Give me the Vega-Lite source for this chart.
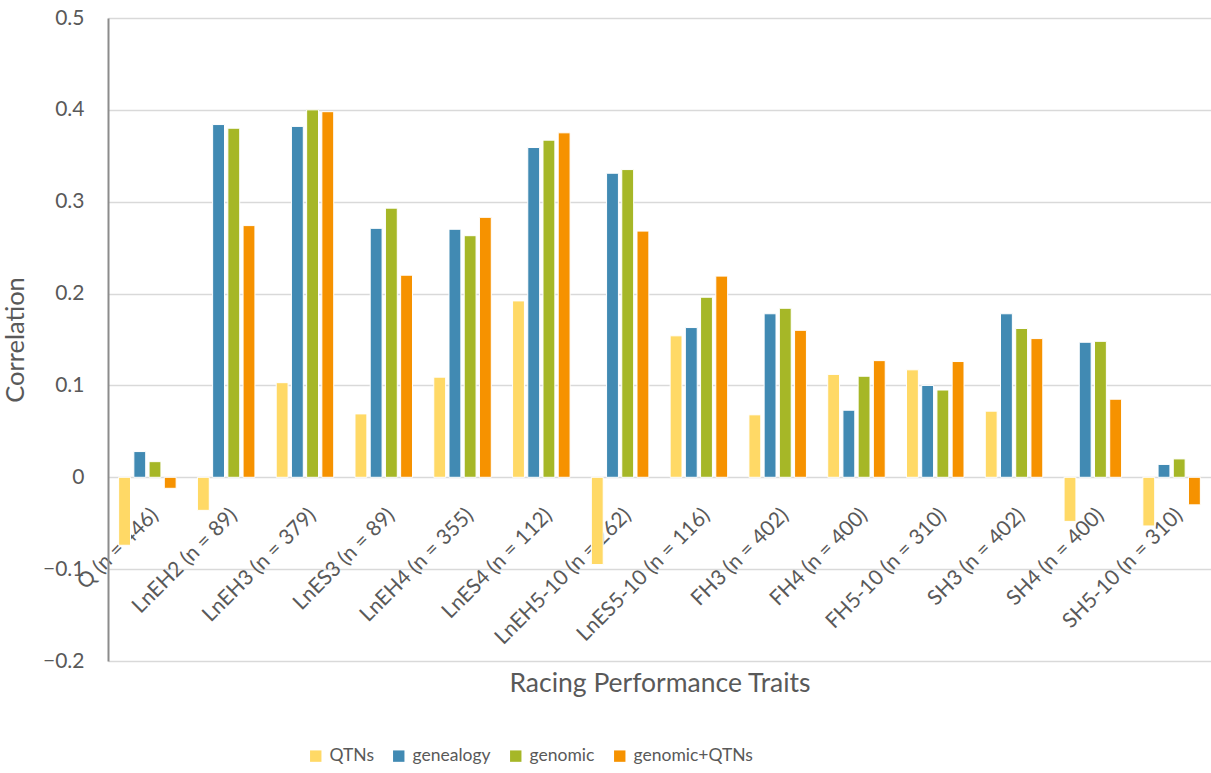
{
  "$schema": "https://vega.github.io/schema/vega-lite/v6.json",
  "autosize": {"type": "none"},
  "padding": {"left": 108, "top": 18, "right": 0, "bottom": 112},
  "width": 1103,
  "height": 643,
  "background": "white",
  "config": {
    "font": "Lato",
    "view": {"stroke": null},
    "axis": {"labelColor": "#595959", "titleColor": "#595959", "labelFont": "Lato", "titleFont": "Lato", "titleFontWeight": "normal"},
    "legend": {"labelFont": "Lato", "labelColor": "#595959"}
  },
  "data": {
    "values": [
      {"trait": "Q (n = 446)", "method": "QTNs", "r": -0.074},
      {"trait": "Q (n = 446)", "method": "genealogy", "r": 0.028},
      {"trait": "Q (n = 446)", "method": "genomic", "r": 0.017},
      {"trait": "Q (n = 446)", "method": "genomic+QTNs", "r": -0.012},
      {"trait": "LnEH2 (n = 89)", "method": "QTNs", "r": -0.036},
      {"trait": "LnEH2 (n = 89)", "method": "genealogy", "r": 0.384},
      {"trait": "LnEH2 (n = 89)", "method": "genomic", "r": 0.380},
      {"trait": "LnEH2 (n = 89)", "method": "genomic+QTNs", "r": 0.274},
      {"trait": "LnEH3 (n = 379)", "method": "QTNs", "r": 0.103},
      {"trait": "LnEH3 (n = 379)", "method": "genealogy", "r": 0.382},
      {"trait": "LnEH3 (n = 379)", "method": "genomic", "r": 0.400},
      {"trait": "LnEH3 (n = 379)", "method": "genomic+QTNs", "r": 0.398},
      {"trait": "LnES3 (n = 89)", "method": "QTNs", "r": 0.069},
      {"trait": "LnES3 (n = 89)", "method": "genealogy", "r": 0.271},
      {"trait": "LnES3 (n = 89)", "method": "genomic", "r": 0.293},
      {"trait": "LnES3 (n = 89)", "method": "genomic+QTNs", "r": 0.220},
      {"trait": "LnEH4 (n = 355)", "method": "QTNs", "r": 0.109},
      {"trait": "LnEH4 (n = 355)", "method": "genealogy", "r": 0.270},
      {"trait": "LnEH4 (n = 355)", "method": "genomic", "r": 0.263},
      {"trait": "LnEH4 (n = 355)", "method": "genomic+QTNs", "r": 0.283},
      {"trait": "LnES4 (n = 112)", "method": "QTNs", "r": 0.192},
      {"trait": "LnES4 (n = 112)", "method": "genealogy", "r": 0.359},
      {"trait": "LnES4 (n = 112)", "method": "genomic", "r": 0.367},
      {"trait": "LnES4 (n = 112)", "method": "genomic+QTNs", "r": 0.375},
      {"trait": "LnEH5-10 (n = 262)", "method": "QTNs", "r": -0.095},
      {"trait": "LnEH5-10 (n = 262)", "method": "genealogy", "r": 0.331},
      {"trait": "LnEH5-10 (n = 262)", "method": "genomic", "r": 0.335},
      {"trait": "LnEH5-10 (n = 262)", "method": "genomic+QTNs", "r": 0.268},
      {"trait": "LnES5-10 (n = 116)", "method": "QTNs", "r": 0.154},
      {"trait": "LnES5-10 (n = 116)", "method": "genealogy", "r": 0.163},
      {"trait": "LnES5-10 (n = 116)", "method": "genomic", "r": 0.196},
      {"trait": "LnES5-10 (n = 116)", "method": "genomic+QTNs", "r": 0.219},
      {"trait": "FH3 (n = 402)", "method": "QTNs", "r": 0.068},
      {"trait": "FH3 (n = 402)", "method": "genealogy", "r": 0.178},
      {"trait": "FH3 (n = 402)", "method": "genomic", "r": 0.184},
      {"trait": "FH3 (n = 402)", "method": "genomic+QTNs", "r": 0.160},
      {"trait": "FH4 (n = 400)", "method": "QTNs", "r": 0.112},
      {"trait": "FH4 (n = 400)", "method": "genealogy", "r": 0.073},
      {"trait": "FH4 (n = 400)", "method": "genomic", "r": 0.110},
      {"trait": "FH4 (n = 400)", "method": "genomic+QTNs", "r": 0.127},
      {"trait": "FH5-10 (n = 310)", "method": "QTNs", "r": 0.117},
      {"trait": "FH5-10 (n = 310)", "method": "genealogy", "r": 0.100},
      {"trait": "FH5-10 (n = 310)", "method": "genomic", "r": 0.095},
      {"trait": "FH5-10 (n = 310)", "method": "genomic+QTNs", "r": 0.126},
      {"trait": "SH3 (n = 402)", "method": "QTNs", "r": 0.072},
      {"trait": "SH3 (n = 402)", "method": "genealogy", "r": 0.178},
      {"trait": "SH3 (n = 402)", "method": "genomic", "r": 0.162},
      {"trait": "SH3 (n = 402)", "method": "genomic+QTNs", "r": 0.151},
      {"trait": "SH4 (n = 400)", "method": "QTNs", "r": -0.048},
      {"trait": "SH4 (n = 400)", "method": "genealogy", "r": 0.147},
      {"trait": "SH4 (n = 400)", "method": "genomic", "r": 0.148},
      {"trait": "SH4 (n = 400)", "method": "genomic+QTNs", "r": 0.085},
      {"trait": "SH5-10 (n = 310)", "method": "QTNs", "r": -0.053},
      {"trait": "SH5-10 (n = 310)", "method": "genealogy", "r": 0.014},
      {"trait": "SH5-10 (n = 310)", "method": "genomic", "r": 0.020},
      {"trait": "SH5-10 (n = 310)", "method": "genomic+QTNs", "r": -0.030}
    ]
  },
  "mark": {"type": "bar", "stroke": "white", "strokeWidth": 1},
  "encoding": {
    "x": {
      "field": "trait",
      "type": "nominal",
      "sort": null,
      "scale": {"paddingInner": 0.27, "paddingOuter": 0.135},
      "axis": {
        "title": "Racing Performance Traits",
        "titleFontSize": 26.5,
        "titleY": 193,
        "labelAngle": -45,
        "labelFontSize": 21,
        "labelPadding": 27,
        "labelLimit": 300,
        "labelOverlap": false,
        "offset": -184,
        "ticks": false,
        "domain": false,
        "grid": false
      }
    },
    "xOffset": {
      "field": "method",
      "type": "nominal",
      "sort": ["QTNs", "genealogy", "genomic", "genomic+QTNs"],
      "scale": {"paddingInner": 0.22}
    },
    "y": {
      "field": "r",
      "type": "quantitative",
      "scale": {"domain": [-0.2, 0.5], "nice": false},
      "axis": {
        "title": "Correlation",
        "titleFontSize": 25.5,
        "titlePadding": 14,
        "labelFontSize": 21,
        "labelPadding": 24,
        "labelOverlap": false,
        "values": [-0.2, -0.1, 0, 0.1, 0.2, 0.3, 0.4, 0.5],
        "format": ".1~f",
        "ticks": false,
        "domainColor": "#8C8C8C",
        "domainWidth": 2,
        "gridColor": "#D9D9D9",
        "gridWidth": 1.5
      }
    },
    "color": {
      "field": "method",
      "type": "nominal",
      "sort": ["QTNs", "genealogy", "genomic", "genomic+QTNs"],
      "scale": {
        "domain": ["QTNs", "genealogy", "genomic", "genomic+QTNs"],
        "range": ["#FFD966", "#418AB3", "#A6B727", "#F69200"]
      },
      "legend": {
        "title": null,
        "orient": "none",
        "legendX": 199,
        "legendY": 729,
        "direction": "horizontal",
        "symbolType": "square",
        "symbolSize": 130,
        "symbolStrokeWidth": 0,
        "labelFontSize": 17.5,
        "labelOffset": 5,
        "columnPadding": 16
      }
    }
  }
}
